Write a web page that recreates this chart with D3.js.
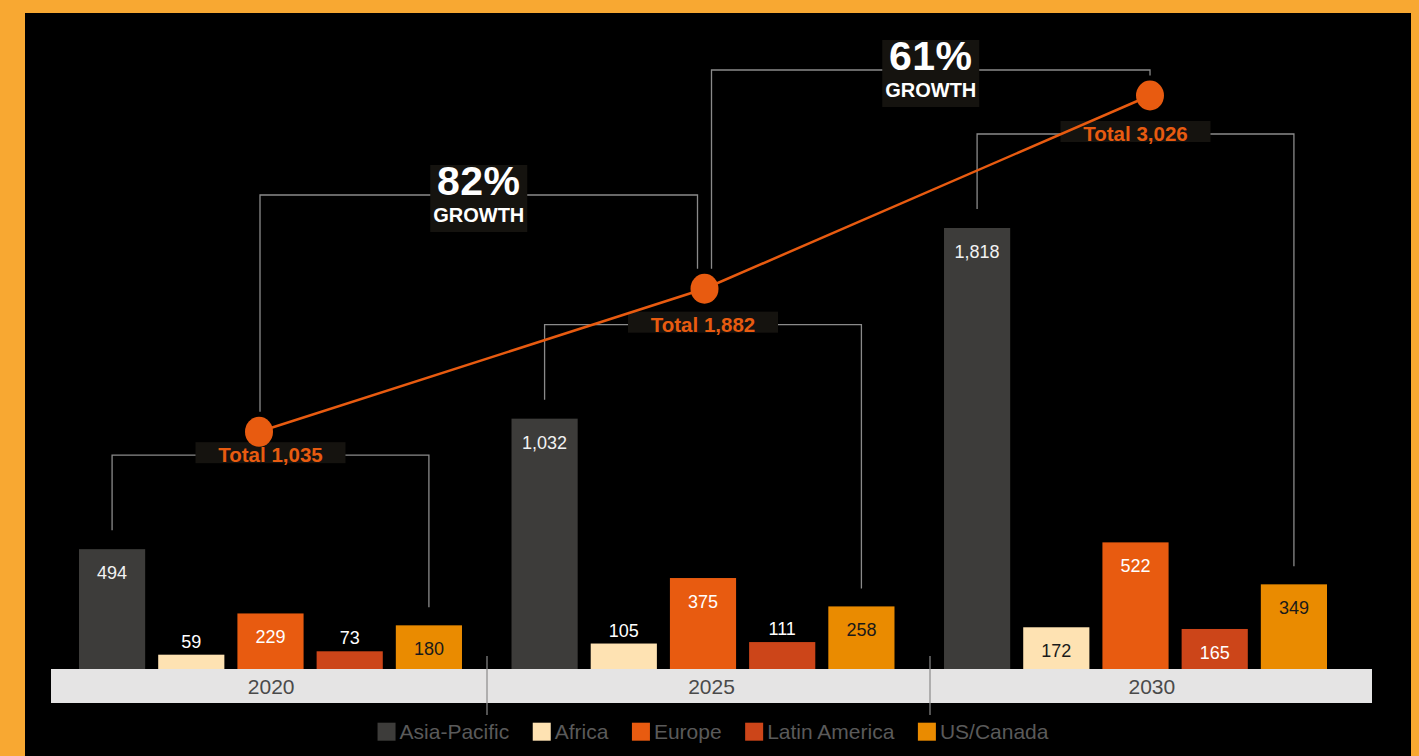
<!DOCTYPE html>
<html>
<head>
<meta charset="utf-8">
<script src="https://cdn.jsdelivr.net/npm/d3@7"></script>
<style>
  html, body { margin: 0; padding: 0; background: #F8A832; }
  svg { display: block; }
  text { font-family: "Liberation Sans", Arial, Helvetica, sans-serif; }
</style>
</head>
<body>
<div id="chart"></div>
<script>
// data
const years = ["2020", "2025", "2030"];
const regions = ["Asia-Pacific", "Africa", "Europe", "Latin America", "US/Canada"];
const asiaPacific = [494, 1032, 1818];
const africa = [59, 105, 172];
const europe = [229, 375, 522];
const latinAmerica = [73, 111, 165];
const usCanada = [180, 258, 349];
const totals = [1035, 1882, 3026];

const colors = ["#3d3c3a", "#FEE2B2", "#E85B10", "#CC4519", "#EA8B00"];
const labelColors = ["#f2f2f2", "#1a1a1a", "#ffffff", "#ffffff", "#1a1a1a"];

const series = [asiaPacific, africa, europe, latinAmerica, usCanada];

const W = 1419, H = 756;
const baseY = 669;

const svg = d3.select("#chart").append("svg")
  .attr("width", W).attr("height", H);

// black panel inside the orange frame
svg.append("rect").attr("x", 25).attr("y", 13)
  .attr("width", 1386).attr("height", H - 13).attr("fill", "#000");

// scales
const xBandAxis = d3.scaleBand().domain(years).range([51, 1372]);
const x0 = d3.scaleBand().domain(years).range([79, 1327]).paddingInner(0.1145);
const x1 = d3.scaleBand().domain(regions).range([0, x0.bandwidth()]).paddingInner(0.1646);
const y = d3.scaleLinear().domain([0, d3.max(asiaPacific)]).range([baseY, 228]);
const xTot = d3.scalePoint().domain(years).range([259, 1150]);
const yTot = d3.scaleLinear().domain([1035, 3026]).range([431.8, 95.5]);

const rows = years.map((yr, i) => ({
  year: yr,
  values: regions.map((r, j) => ({ region: r, j: j, value: series[j][i] }))
}));

// category band at the bottom
svg.append("rect")
  .attr("x", xBandAxis.range()[0]).attr("y", baseY)
  .attr("width", xBandAxis.range()[1] - xBandAxis.range()[0]).attr("height", 34)
  .attr("fill", "#E5E4E4");

svg.selectAll(".yearLabel").data(years).enter().append("text")
  .attr("x", d => xBandAxis(d) + xBandAxis.bandwidth() / 2)
  .attr("y", baseY + 17)
  .attr("dy", "0.36em")
  .attr("text-anchor", "middle")
  .attr("font-size", 21)
  .attr("fill", "#4a4a4a")
  .text(d => d);

// separators between year groups
svg.selectAll(".sep").data([487, 930]).enter().append("line")
  .attr("x1", d => d).attr("x2", d => d)
  .attr("y1", 656).attr("y2", 715)
  .attr("stroke", "#8a8a8a").attr("stroke-width", 1.2);

// bars
const groups = svg.selectAll(".grp").data(rows).enter().append("g")
  .attr("transform", d => "translate(" + x0(d.year) + ",0)");

groups.selectAll("rect").data(d => d.values).enter().append("rect")
  .attr("x", d => x1(d.region))
  .attr("y", d => y(d.value))
  .attr("width", x1.bandwidth())
  .attr("height", d => baseY - y(d.value))
  .attr("fill", d => colors[d.j]);

groups.selectAll(".val").data(d => d.values).enter().append("text")
  .attr("x", d => x1(d.region) + x1.bandwidth() / 2)
  .attr("y", d => d.value >= 150 ? y(d.value) + 23.5 : y(d.value) - 13.5)
  .attr("dy", "0.36em")
  .attr("text-anchor", "middle")
  .attr("font-size", 18)
  .attr("fill", d => d.value >= 150 ? labelColors[d.j] : "#ffffff")
  .text(d => d3.format(",")(d.value));

// total brackets (from Asia-Pacific bar to US/Canada bar)
const lineCol = "#8a8a8a";
rows.forEach((row, i) => {
  const xl = x0(row.year) + x1(regions[0]) + x1.bandwidth() / 2;
  const xr = x0(row.year) + x1(regions[4]) + x1.bandwidth() / 2;
  const by = y(asiaPacific[i]) - 94;
  const path = d3.path();
  path.moveTo(xl, y(asiaPacific[i]) - 19);
  path.lineTo(xl, by);
  path.lineTo(xr, by);
  path.lineTo(xr, y(usCanada[i]) - 18);
  svg.append("path").attr("d", path.toString())
    .attr("fill", "none").attr("stroke", lineCol).attr("stroke-width", 1.3);
  row.bx = (xl + xr) / 2;
  row.by = by;
});

// growth brackets
const growthY = [195, 70];
const growth = [0, 1].map(i => ({
  xl: xTot(years[i]) + (i === 0 ? 1 : 7),
  xr: xTot(years[i + 1]) - (i === 0 ? 7 : 0),
  yl: yTot(totals[i]) - 20,
  yr: yTot(totals[i + 1]) - 20,
  by: growthY[i],
  pct: Math.round((totals[i + 1] - totals[i]) / totals[i] * 100)
}));

growth.forEach(g => {
  const path = d3.path();
  path.moveTo(g.xl, g.yl);
  path.lineTo(g.xl, g.by);
  path.lineTo(g.xr, g.by);
  path.lineTo(g.xr, g.yr);
  svg.append("path").attr("d", path.toString())
    .attr("fill", "none").attr("stroke", lineCol).attr("stroke-width", 1.3);
});

// label boxes
const boxFill = "#15130f";
svg.selectAll(".totBox").data(rows).enter().append("rect")
  .attr("x", d => d.bx - 75).attr("y", d => d.by - 13)
  .attr("width", 150).attr("height", 21)
  .attr("fill", boxFill);

growth.forEach(g => {
  const cx = (g.xl + g.xr) / 2;
  svg.append("rect").attr("x", cx - 48.5).attr("y", g.by - 30)
    .attr("width", 97).attr("height", 67).attr("fill", boxFill);
  svg.append("text").attr("x", cx).attr("y", g.by - 0.5)
    .attr("text-anchor", "middle").attr("font-size", 41).attr("font-weight", "bold")
    .attr("fill", "#fff").attr("letter-spacing", 0.5).text(g.pct + "%");
  svg.append("text").attr("x", cx).attr("y", g.by + 27)
    .attr("text-anchor", "middle").attr("font-size", 20).attr("font-weight", "bold")
    .attr("fill", "#fff").text("GROWTH");
});

// total line and points
const orange = "#E85B10";
svg.append("path")
  .datum(years.map((yr, i) => [xTot(yr), yTot(totals[i])]))
  .attr("d", d3.line())
  .attr("fill", "none").attr("stroke", orange).attr("stroke-width", 2.5);

svg.selectAll(".pt").data(years).enter().append("ellipse")
  .attr("cx", d => xTot(d))
  .attr("cy", (d, i) => yTot(totals[i]))
  .attr("rx", 14).attr("ry", 15)
  .attr("fill", orange);

svg.selectAll(".totTxt").data(rows).enter().append("text")
  .attr("x", d => d.bx).attr("y", d => d.by + 7)
  .attr("text-anchor", "middle").attr("font-size", 20.5).attr("font-weight", "bold")
  .attr("fill", orange)
  .text((d, i) => "Total " + d3.format(",")(totals[i]));

// legend
const legend = svg.append("g");
let lx = 0;
regions.forEach((r, j) => {
  const item = legend.append("g").attr("transform", "translate(" + lx + ",0)");
  item.append("rect").attr("x", 0).attr("y", 722.7).attr("width", 18).attr("height", 18)
    .attr("fill", colors[j]);
  const t = item.append("text").attr("x", 22).attr("y", 731.7).attr("dy", "0.36em")
    .attr("font-size", 21).attr("fill", "#5a5a5a").text(r);
  lx += 22 + t.node().getComputedTextLength() + 23.5;
});
const legW = lx - 23.5;
legend.attr("transform", "translate(" + (713 - legW / 2) + ",0)");
</script>
</body>
</html>
